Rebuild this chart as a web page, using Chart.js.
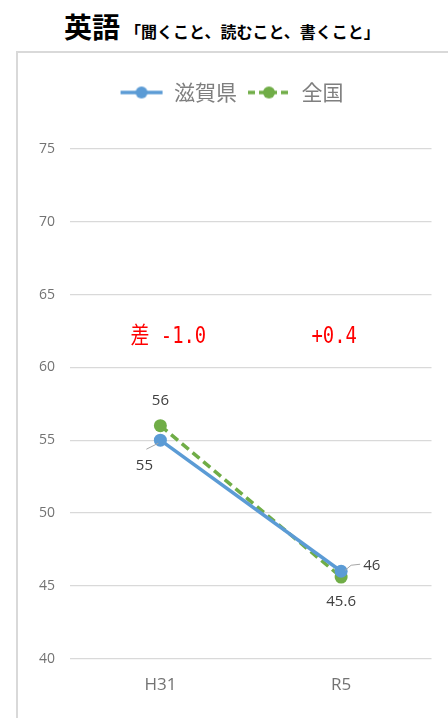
<!DOCTYPE html>
<html><head><meta charset="utf-8">
<script src="https://cdn.jsdelivr.net/npm/chart.js@4.4.0/dist/chart.umd.min.js"></script>
<style>
html,body{margin:0;padding:0;width:448px;height:718px;overflow:hidden;background:#fff;font-family:"Noto Sans CJK JP",sans-serif;}
#title{position:absolute;left:64px;top:6px;white-space:nowrap;color:#000;}
#title .main{font-size:28px;font-weight:bold;}
#title .sub{font-size:16px;font-weight:bold;margin-left:5px;}
#frame{position:absolute;left:16px;top:51px;width:470px;height:700px;border:2px solid #d9d9d9;}
#wrap{position:absolute;left:0;top:0;width:420px;height:665px;}
</style></head>
<body>
<div id="title"><span class="main">英語</span><span class="sub">「聞くこと、読むこと、書くこと」</span></div>
<div id="frame"><div id="wrap"><canvas id="c"></canvas></div></div>
<script>
const categories = ["H31", "R5"];
const seriesNames = ["滋賀県", "全国"];
const shigaValues = [55, 46];
const nationalValues = [56, 45.6];
const yTicks = [40, 45, 50, 55, 60, 65, 70, 75];

const BLUE = "#5B9BD5", GREEN = "#70AD47";

function legendIcon(color, dashed){
  const cv = document.createElement("canvas");
  cv.width = 44; cv.height = 14;
  const x = cv.getContext("2d");
  x.strokeStyle = color; x.lineWidth = 3.5;
  if (dashed) x.setLineDash([7,4]);
  x.beginPath(); x.moveTo(1,7); x.lineTo(43,7); x.stroke();
  x.setLineDash([]);
  x.fillStyle = color; x.beginPath(); x.arc(22,7,6,0,Math.PI*2); x.fill();
  return cv;
}
const icons = [legendIcon(BLUE,false), legendIcon(GREEN,true)];

const legendSpace = {
  id: "legendSpace",
  beforeInit(chart){
    const lg = chart.legend;
    if (!lg) return;
    const f = lg.fit;
    lg.fit = function(){ f.call(this); this.height += 36; };
  }
};

function fmt(v){ return (Math.round(v*10)/10).toString(); }

const labelsPlugin = {
  id: "pointLabels",
  afterDatasetsDraw(chart){
    const ctx = chart.ctx;
    const m0 = chart.getDatasetMeta(0).data; // 滋賀県
    const m1 = chart.getDatasetMeta(1).data; // 全国
    ctx.save();
    ctx.font = "15px 'Open Sans','Noto Sans',sans-serif";
    ctx.fillStyle = "#404040";
    ctx.textBaseline = "middle";
    ctx.strokeStyle = "#a6a6a6"; ctx.lineWidth = 1;
    ctx.textAlign = "center";
    ctx.fillText(fmt(nationalValues[0]), m1[0].x, m1[0].y - 25);
    ctx.beginPath(); ctx.moveTo(m0[0].x - 2, m0[0].y + 3); ctx.lineTo(m0[0].x - 14, m0[0].y + 9); ctx.stroke();
    ctx.fillText(fmt(shigaValues[0]), m0[0].x - 16, m0[0].y + 26);
    ctx.beginPath(); ctx.moveTo(m0[1].x + 4, m0[1].y - 1); ctx.lineTo(m0[1].x + 10, m0[1].y - 6); ctx.lineTo(m0[1].x + 19, m0[1].y - 7); ctx.stroke();
    ctx.textAlign = "left";
    ctx.fillText(fmt(shigaValues[1]), m0[1].x + 22, m0[1].y - 6);
    ctx.textAlign = "center";
    ctx.fillText(fmt(nationalValues[1]), m1[1].x, m1[1].y + 25);

    const xs = chart.scales.x;
    const top = chart.chartArea.top + 188;
    ctx.fillStyle = "#FF0000";
    categories.forEach((c, i) => {
      const d = Math.round((shigaValues[i] - nationalValues[i]) * 10) / 10;
      const txt = (d > 0 ? "+" : "") + d.toFixed(1);
      const cx = xs.getPixelForValue(i);
      ctx.save();
      ctx.translate(i === 0 ? cx + 8 : cx - 7, top);
      ctx.scale(0.82, 1);
      ctx.textAlign = "center";
      ctx.textBaseline = "middle";
      const full = (i === 0 ? "差 " : "") + txt;
      ctx.font = "23px 'DejaVu Sans Mono','Noto Sans CJK JP',monospace";
      ctx.fillText(full, 0, 0);
      ctx.restore();
    });
    ctx.restore();
  }
};

new Chart(document.getElementById("c"), {
  type: "line",
  data: {
    labels: categories,
    datasets: [
      { label: seriesNames[0], data: shigaValues, borderColor: BLUE, backgroundColor: BLUE,
        borderWidth: 3.5, pointRadius: 6.5, pointHoverRadius: 6.5, pointBackgroundColor: BLUE, pointBorderWidth: 0, tension: 0 },
      { label: seriesNames[1], data: nationalValues, borderColor: GREEN, backgroundColor: GREEN,
        borderWidth: 3.5, borderDash: [9,5], pointRadius: 6.5, pointHoverRadius: 6.5, pointBackgroundColor: GREEN, pointBorderWidth: 0, tension: 0 }
    ]
  },
  options: {
    responsive: true, maintainAspectRatio: false, animation: false,
    layout: { padding: { top: 19, right: 5, bottom: 15, left: 12 } },
    plugins: {
      tooltip: { enabled: false },
      legend: {
        position: "top",
        labels: {
          usePointStyle: true, pointStyleWidth: 44, padding: 10,
          color: "#7f7f7f", font: { size: 21, family: "'Noto Sans CJK JP',sans-serif" },
          generateLabels(chart){
            const items = Chart.defaults.plugins.legend.labels.generateLabels(chart);
            items.forEach((it, i) => { it.pointStyle = icons[i]; });
            return items;
          }
        }
      }
    },
    scales: {
      x: {
        offset: true,
        grid: { display: false },
        border: { display: false },
        ticks: { color: "#737373", font: { size: 17, family: "'Open Sans',sans-serif" }, padding: 8 }
      },
      y: {
        min: 40, max: 75,
        afterBuildTicks(scale){ scale.ticks = yTicks.map(v => ({ value: v })); },
        afterFit(scale){ scale.width = 40; },
        grid: { color: "#d9d9d9", lineWidth: 1.3, drawTicks: false },
        border: { display: false },
        ticks: { color: "#737373", font: { size: 14, family: "'Open Sans',sans-serif" }, padding: 15 }
      }
    }
  },
  plugins: [legendSpace, labelsPlugin]
});
</script>
</body></html>
